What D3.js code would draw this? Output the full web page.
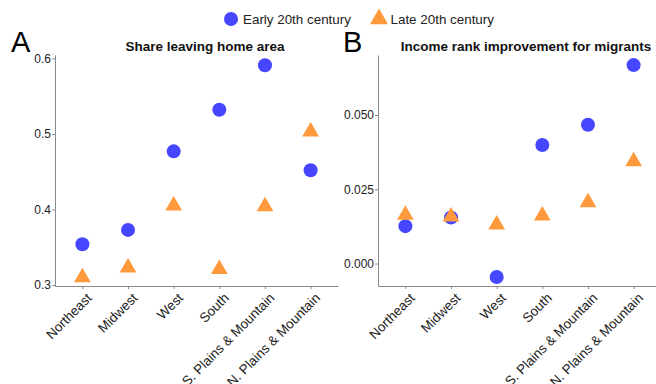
<!DOCTYPE html>
<html><head><meta charset="utf-8">
<script src="https://cdn.jsdelivr.net/npm/d3@7"></script>
<style>
body{margin:0;background:#fff;}
text{font-family:"Liberation Sans",Arial,sans-serif;}
</style></head>
<body><svg id="c" width="656" height="384"></svg>
<script>
const categories = ["Northeast","Midwest","West","South","S. Plains & Mountain","N. Plains & Mountain"];
const seriesNames = ["Early 20th century","Late 20th century"];
const shareEarly = [0.354,0.373,0.477,0.532,0.591,0.452];
const shareLate  = [0.310,0.323,0.405,0.321,0.404,0.503];
const incomeEarly = [0.0126,0.0155,-0.0045,0.0399,0.0467,0.0668];
const incomeLate  = [0.0164,0.0158,0.0131,0.0161,0.0206,0.0344];
const shareTicks = [0.3,0.4,0.5,0.6];
const incomeTicks = [0.000,0.025,0.050];

const colors = ["#4646ff","#ff9a3c"];
const svg = d3.select("#c");

function panel(opt){
  const g = svg.append("g");
  const x = d3.scalePoint().domain(categories).range([opt.x0, opt.x1]).padding(0.6);
  const y = d3.scaleLinear().domain(opt.ydom).range([opt.yb, opt.yt]);
  const xa = g.append("g").attr("transform",`translate(0,${opt.yb})`)
    .call(d3.axisBottom(x).tickSize(3).tickSizeOuter(0));
  xa.select(".domain").attr("stroke","#8a8a8a");
  xa.selectAll(".tick line").attr("stroke","#8a8a8a");
  xa.selectAll(".tick text").attr("font-size","13.4px").attr("fill","#222")
    .attr("text-anchor","end").attr("x",0).attr("y",0).attr("dy","0.72em")
    .attr("transform","translate(3,6) rotate(-45)");
  const ya = g.append("g").attr("transform",`translate(${opt.x0},0)`)
    .call(d3.axisLeft(y).tickValues(opt.ticks).tickFormat(opt.fmt).tickSize(3).tickSizeOuter(0));
  ya.select(".domain").attr("stroke","#8a8a8a");
  ya.selectAll(".tick line").attr("stroke","#8a8a8a");
  ya.selectAll(".tick text").attr("font-size","12px").attr("fill","#222").attr("x",-4);
  g.selectAll("circle.e").data(opt.early).join("circle")
    .attr("cx",(d,i)=>x(categories[i])).attr("cy",d=>y(d)).attr("r",7).attr("fill",colors[0]);
  const tri = d3.symbol().type(d3.symbolTriangle).size(122);
  g.selectAll("path.l").data(opt.late).join("path")
    .attr("d",tri).attr("transform",(d,i)=>`translate(${x(categories[i])},${y(d)})`).attr("fill",colors[1]);
  g.append("text").attr("x",opt.tx).attr("y",51).attr("text-anchor","middle")
    .attr("font-size","13.5px").attr("font-weight","bold").attr("fill","#111").text(opt.title);
  g.append("text").attr("x",opt.lx).attr("y",52).attr("font-size","29px").attr("fill","#000").text(opt.letter);
}

panel({x0:55,x1:338,yb:286,yt:55,ydom:[0.2987,0.6046],ticks:shareTicks,fmt:d3.format(".1f"),
  early:shareEarly,late:shareLate,title:"Share leaving home area",tx:205,letter:"A",lx:11});
panel({x0:378,x1:661,yb:286,yt:55,ydom:[-0.00755,0.0702],ticks:incomeTicks,fmt:d3.format(".3f"),
  early:incomeEarly,late:incomeLate,title:"Income rank improvement for migrants",tx:526,letter:"B",lx:343});

const leg = svg.append("g");
leg.append("circle").attr("cx",231).attr("cy",19).attr("r",7).attr("fill",colors[0]);
leg.append("text").attr("x",243).attr("y",24).attr("font-size","13.4px").attr("fill","#222").text(seriesNames[0]);
leg.append("path").attr("d",d3.symbol().type(d3.symbolTriangle).size(140)())
  .attr("transform","translate(379,19)").attr("fill",colors[1]);
leg.append("text").attr("x",390.5).attr("y",24).attr("font-size","13.4px").attr("fill","#222").text(seriesNames[1]);
</script></body></html>
